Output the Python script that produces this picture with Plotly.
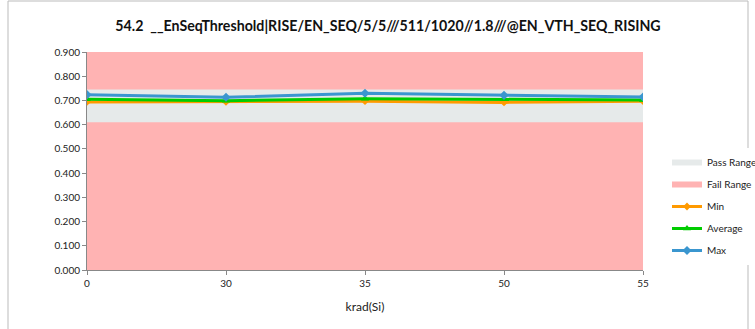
import plotly.graph_objects as go

# Data
krad = ["0", "30", "35", "50", "55"]
min_vals = [0.694, 0.694, 0.697, 0.692, 0.697]
avg_vals = [0.705, 0.699, 0.707, 0.706, 0.702]
max_vals = [0.724, 0.713, 0.730, 0.721, 0.714]
pass_low = [0.61, 0.61, 0.61, 0.61, 0.61]
pass_high = [0.745, 0.745, 0.745, 0.745, 0.745]
fail_top = [0.9, 0.9, 0.9, 0.9, 0.9]

title = "54.2  __EnSeqThreshold|RISE/EN_SEQ/5/5///511/1020//1.8///@EN_VTH_SEQ_RISING"
font = "Lato, Open Sans, sans-serif"

W, H = 755, 329
L, R, T, B = 87, 112, 52, 59
pw, ph = W - L - R, H - T - B

fig = go.Figure()

# Fail range: whole band from 0 up to 0.9
fig.add_trace(go.Scatter(x=krad, y=fail_top, name="Fail Range", mode="none",
                         fill="tozeroy", fillcolor="#FFB3B3", legendrank=2))
# Pass range: closed band between low and high limits
fig.add_trace(go.Scatter(x=krad + krad[::-1], y=pass_high + pass_low[::-1],
                         name="Pass Range", mode="none", fill="toself",
                         fillcolor="#E6EAEA", legendrank=1))

fig.add_trace(go.Scatter(x=krad, y=min_vals, name="Min", mode="lines+markers",
                         line=dict(color="#FF9A00", width=3), legendrank=3,
                         marker=dict(symbol="diamond", size=6, color="#FF9A00")))
fig.add_trace(go.Scatter(x=krad, y=avg_vals, name="Average", mode="lines+markers",
                         line=dict(color="#00CC00", width=3), legendrank=4,
                         marker=dict(symbol="triangle-up", size=7, color="#00CC00")))
fig.add_trace(go.Scatter(x=krad, y=max_vals, name="Max", mode="lines+markers",
                         line=dict(color="#3A96CF", width=3), legendrank=5,
                         marker=dict(symbol="diamond", size=7, color="#3A96CF")))

for i, tr in enumerate(fig.data):
    tr.legendgroup = "g%d" % i

fig.update_layout(
    width=W, height=H,
    margin=dict(l=L, r=R, t=T, b=B),
    paper_bgcolor="white", plot_bgcolor="white",
    font=dict(family=font, size=10, color="#222"),
    title=dict(text="<b>" + title + "</b>", x=388 / W, xanchor="center",
               y=0.92, yanchor="middle", font=dict(size=14.2, color="#111")),
    legend=dict(xref="container", yref="container", x=667 / W, xanchor="left",
                y=1 - 148 / H, yanchor="top", traceorder="grouped",
                tracegroupgap=3, font=dict(size=10), itemwidth=30),
    showlegend=True,
)

fig.update_xaxes(
    type="category", range=[0, 4], showline=True, linecolor="#888",
    ticks="outside", ticklen=4, tickcolor="#888", showgrid=False,
    title=dict(text="krad(Si)", font=dict(size=12), standoff=14),
)
fig.update_yaxes(
    range=[0, 0.9], dtick=0.1, tickformat=".3f", showline=True,
    linecolor="#888", ticks="outside", ticklen=4, tickcolor="#888",
    showgrid=False, zeroline=False,
)

# light outer chart border (bottom edge falls outside the picture)
fig.add_shape(type="rect", xref="paper", yref="paper",
              x0=(8 - L) / pw, x1=(748 - L) / pw,
              y0=-0.5, y1=(H - B - 1) / ph,
              line=dict(color="#BBBBBB", width=1), fillcolor="rgba(0,0,0,0)")

fig.write_html("out.html", config={"displayModeBar": False},
               post_script="document.body.style.margin='0';")
